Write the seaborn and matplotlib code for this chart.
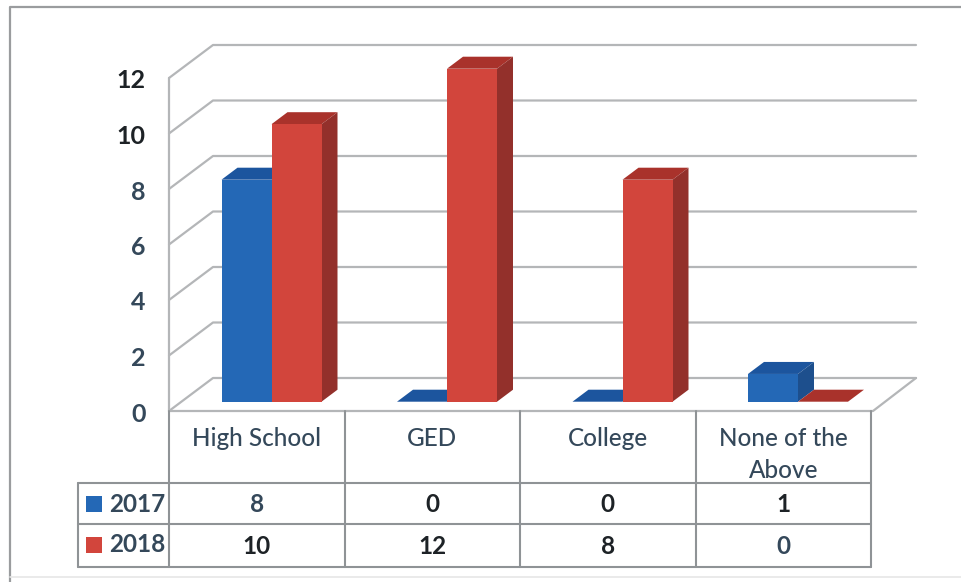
import matplotlib
matplotlib.use('Agg')
import matplotlib.pyplot as plt
from matplotlib.patches import Polygon, Rectangle
from matplotlib.transforms import ScaledTranslation
import pandas as pd
import seaborn as sns

categories = ['High School', 'GED', 'College', 'None of the\nAbove']
years = ['2017', '2018']
values_2017 = [8, 0, 0, 1]
values_2018 = [10, 12, 8, 0]
y_ticks = [0, 2, 4, 6, 8, 10, 12]

front_colors = {'2017': '#2468b6', '2018': '#d2453c'}
top_colors = {'2017': '#1c559e', '2018': '#a9322b'}
side_colors = {'2017': '#1d4f8d', '2018': '#93302b'}
text_dark = '#1d2226'
text_slate = '#34485a'
grid_color = '#b4b6b8'
table_color = '#8f9396'

sns.set_theme(style='white')
plt.rcParams['font.family'] = ['Lato', 'DejaVu Sans']

W, H = 961, 582
fig = plt.figure(figsize=(W / 100, H / 100), dpi=100, facecolor='white')

# plot area in pixels
left, right = 169, 871
floor_y, top_y = 411, 45
unit = 27.75         # pixels per value
col_w = (right - left) / 4
bars_y = 401.7       # the bars stand behind the front edge of the floor
group_x = 271.5      # middle of the first pair of bars
depth_x, depth_y = 16, 12
wall_x, wall_y = 44, 33
label_size = 17.5

# overlay in pixel coordinates for frame, wall and table
bg = fig.add_axes([0, 0, 1, 1], zorder=0)
bg.set_xlim(0, W)
bg.set_ylim(H, 0)
bg.axis('off')

ax = fig.add_axes([left / W, 1 - floor_y / H, (right - left) / W, (floor_y - top_y) / H], zorder=1)
ax.patch.set_alpha(0)

df = pd.DataFrame({
    'category': categories * 2,
    'year': [years[0]] * 4 + [years[1]] * 4,
    'value': values_2017 + values_2018,
})
sns.barplot(data=df, x='category', y='value', hue='year', order=categories, hue_order=years,
            palette=front_colors, saturation=1, width=100 / col_w, gap=0, legend=False,
            edgecolor='none', linewidth=0, ax=ax, zorder=5)

floor_off = (floor_y - bars_y) / unit
ax.set_xlim(-(group_x - left) / col_w, (right - group_x) / col_w)
ax.set_ylim(-floor_off, (bars_y - top_y) / unit)
sns.despine(ax=ax, left=True, bottom=True, top=True, right=True)
ax.set_xlabel('')
ax.set_ylabel('')
ax.tick_params(bottom=False, labelbottom=False, left=False, pad=11)
ax.set_yticks([v - floor_off for v in y_ticks], [str(v) for v in y_ticks], fontsize=18, fontweight='bold')
shift = ScaledTranslation(0, -1 / 100, fig.dpi_scale_trans)
for lab, v in zip(ax.get_yticklabels(), y_ticks):
    lab.set_color(text_dark if v >= 10 else text_slate)
    lab.set_transform(lab.get_transform() + shift)

# 3d sides of the bars
dx = depth_x / col_w
dy = depth_y / unit
for cont, year in zip(ax.containers, years):
    z = 3 if year == years[0] else 4
    for bar in cont:
        x0, w, h = bar.get_x(), bar.get_width(), bar.get_height()
        bar.set_zorder(z + 0.5)
        ax.add_patch(Polygon([(x0, h), (x0 + w, h), (x0 + w + dx, h + dy), (x0 + dx, h + dy)],
                             closed=True, fc=top_colors[year], ec='none', zorder=z))
        if h > 0:
            ax.add_patch(Polygon([(x0 + w, 0), (x0 + w + dx, dy), (x0 + w + dx, h + dy), (x0 + w, h)],
                                 closed=True, fc=side_colors[year], ec='none', zorder=z))

# back wall grid lines
for v in y_ticks:
    y = floor_y - v * unit
    bg.plot([left, left + wall_x, right + 45], [y, y - wall_y, y - wall_y], color=grid_color, lw=1.6)
bg.plot([left, left], [floor_y, floor_y - y_ticks[-1] * unit], color=grid_color, lw=1.6)
bg.plot([left, right + 2, right + 45], [floor_y, floor_y, floor_y - wall_y], color=grid_color, lw=1.6)

# data table under the chart
row_lines = [483, 524, 567]
key_left = 78
col_lines = [left + col_w * i for i in range(5)]
for x in col_lines:
    bg.plot([x, x], [floor_y, row_lines[-1]], color=table_color, lw=1.5)
for y in row_lines:
    bg.plot([key_left, right], [y, y], color=table_color, lw=1.5)
bg.plot([key_left, key_left], [row_lines[0], row_lines[-1]], color=table_color, lw=1.5)

for i, cat in enumerate(categories):
    cx = left + col_w * (i + 0.5)
    if '\n' in cat:
        bg.text(cx, 438, cat.split('\n')[0], ha='center', va='center', fontsize=label_size,
                fontweight='medium', color=text_slate)
        bg.text(cx, 470, cat.split('\n')[1], ha='center', va='center', fontsize=label_size,
                fontweight='medium', color=text_slate)
    else:
        bg.text(cx, 438, cat, ha='center', va='center', fontsize=label_size,
                fontweight='medium', color=text_slate)
    bg.text(cx, 505, str(values_2017[i]), ha='center', va='center', fontsize=label_size, fontweight='bold',
            color=text_slate if i == 0 else text_dark)
    bg.text(cx, 546, str(values_2018[i]), ha='center', va='center', fontsize=label_size, fontweight='bold',
            color=text_slate if i == 3 else text_dark)

for year, y in zip(years, [504, 545]):
    bg.add_patch(Rectangle((86, y - 8), 16, 16, fc=front_colors[year], ec='none'))
    bg.text(109, y, year, ha='left', va='center', fontsize=label_size, fontweight='bold', color=text_slate)

# outer chart frame
bg.plot([9.5, 9.5, W], [H, 6.5, 6.5], color='#9a9c9e', lw=1.6)
bg.plot([9.5, W], [577, 577], color='#e6e6e6', lw=1.2)

fig.savefig('out.png', dpi=100)
plt.close(fig)
